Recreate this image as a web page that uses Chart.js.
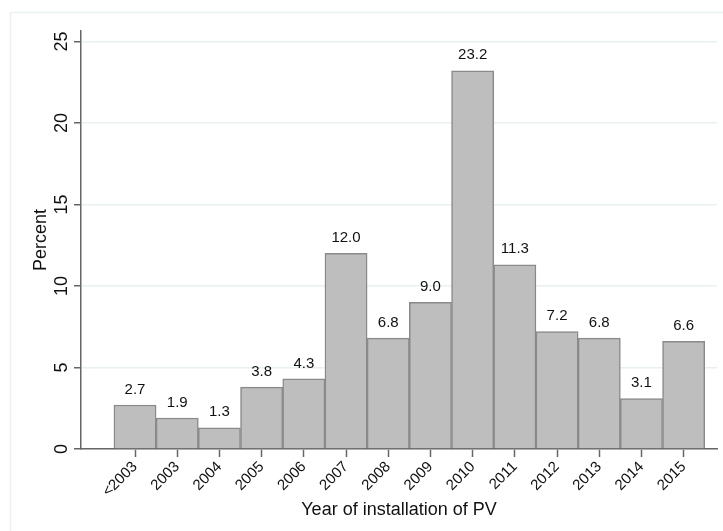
<!DOCTYPE html>
<html>
<head>
<meta charset="utf-8">
<script src="https://cdn.jsdelivr.net/npm/chart.js@4"></script>
<style>
  body { margin: 0; background: #fff; }
  #histChart { display: block; }
</style>
</head>
<body>
<canvas id="histChart" width="723" height="531"></canvas>
<script>
const years = ['<2003', '2003', '2004', '2005', '2006', '2007', '2008', '2009', '2010', '2011', '2012', '2013', '2014', '2015'];
const percent = [2.7, 1.9, 1.3, 3.8, 4.3, 12.0, 6.8, 9.0, 23.2, 11.3, 7.2, 6.8, 3.1, 6.6];
const yTicks = [0, 5, 10, 15, 20, 25];

const txt = '#111';
const font = 'Arial, "Liberation Sans", sans-serif';

// light frame around the graph region
const frame = {
  id: 'frame',
  beforeDraw(chart) {
    const ctx = chart.ctx;
    ctx.save();
    ctx.fillStyle = '#fff';
    ctx.fillRect(0, 0, chart.width, chart.height);
    ctx.strokeStyle = '#eaf1f1';
    ctx.lineWidth = 1.5;
    ctx.strokeRect(10.5, 12.5, 800, 600);
    ctx.restore();
  }
};

// value labels on top of bars
const barLabels = {
  id: 'barLabels',
  afterDatasetsDraw(chart) {
    const ctx = chart.ctx;
    const meta = chart.getDatasetMeta(0);
    ctx.save();
    ctx.font = '15px ' + font;
    ctx.fillStyle = txt;
    ctx.textAlign = 'center';
    ctx.textBaseline = 'bottom';
    meta.data.forEach((bar, i) => {
      ctx.fillText(percent[i].toFixed(1), bar.x, bar.y - 8);
    });
    ctx.restore();
  }
};

new Chart(document.getElementById('histChart'), {
  type: 'bar',
  data: {
    datasets: [{
      data: percent.map((v, i) => ({ x: i, y: v })),
      backgroundColor: '#bebebe',
      borderColor: '#8a8a8a',
      borderWidth: 1.5,
      barPercentage: 1,
      categoryPercentage: 1
    }]
  },
  options: {
    responsive: false,
    animation: false,
    layout: { padding: { top: 31, right: 6, left: 0, bottom: 0 } },
    plugins: { legend: { display: false }, tooltip: { enabled: false } },
    scales: {
      x: {
        type: 'linear',
        min: -1.28,
        max: 13.79,
        offset: false,
        afterBuildTicks: (axis) => { axis.ticks = years.map((_, i) => ({ value: i })); },
        afterFit: (axis) => {
          axis.height = 82;
          axis.paddingLeft = 0;
          axis.paddingRight = 0;
        },
        ticks: {
          autoSkip: false,
          minRotation: 45,
          maxRotation: 45,
          padding: 1,
          color: txt,
          font: { family: font, size: 15 },
          callback: (v) => years[v]
        },
        grid: { offset: false, drawOnChartArea: false, tickLength: 8, tickColor: '#666', tickWidth: 1.5 },
        border: { color: '#666', width: 1.5 },
        title: {
          display: true,
          text: 'Year of installation of PV',
          color: txt,
          font: { family: font, size: 18 },
          padding: { top: 0, bottom: 10 }
        }
      },
      y: {
        min: 0,
        max: 25.64,
        afterBuildTicks: (axis) => { axis.ticks = yTicks.map(v => ({ value: v })); },
        afterFit: (axis) => { axis.width = 81; },
        ticks: {
          minRotation: 90,
          maxRotation: 90,
          crossAlign: 'center',
          padding: 2,
          color: txt,
          font: { family: font, size: 18 }
        },
        grid: { color: '#e8f0f0', lineWidth: 1.5, tickLength: 7, tickColor: '#666', tickWidth: 1.5 },
        border: { color: '#666', width: 1.5 },
        title: {
          display: true,
          text: 'Percent',
          color: txt,
          font: { family: font, size: 18 },
          padding: { top: 30, bottom: 0 }
        }
      }
    }
  },
  plugins: [frame, barLabels]
});
</script>
</body>
</html>
